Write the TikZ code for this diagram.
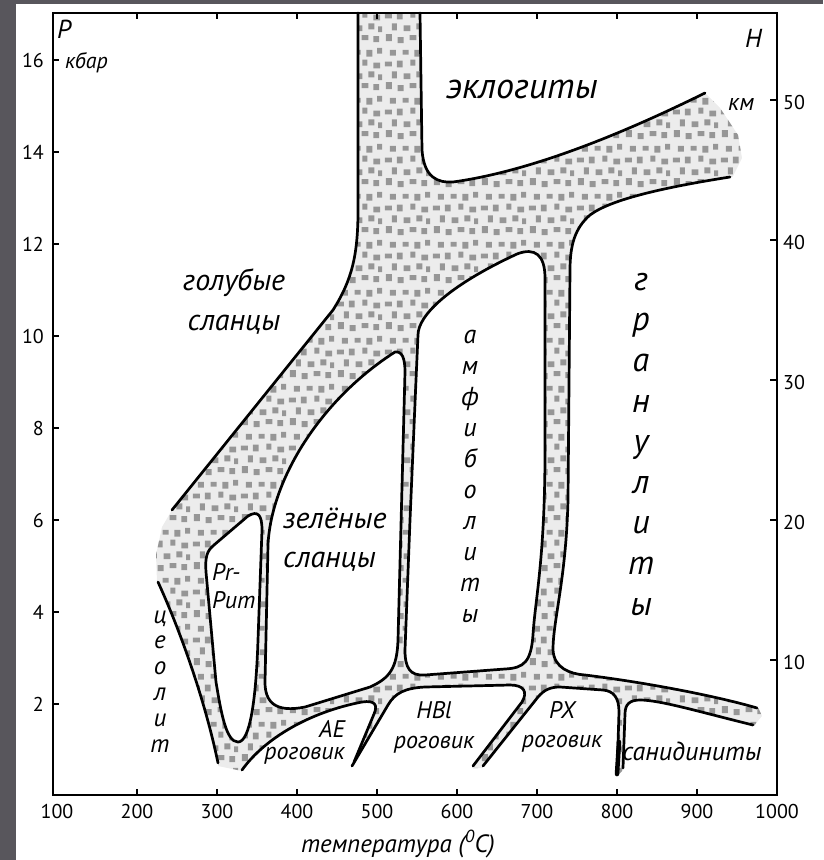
\documentclass[tikz,border=0pt]{standalone}
\usepackage{fontspec}
\setmainfont{PT Sans}
\usetikzlibrary{patterns}

\definecolor{slidegray}{RGB}{88,86,92}
\definecolor{bandgray}{RGB}{236,236,236}
\definecolor{dotgray}{RGB}{150,150,150}

% irregular gray specks of the transition zones
\pgfdeclarepatternformonly{specks}{\pgfqpoint{0pt}{0pt}}{\pgfqpoint{48pt}{48pt}}{\pgfqpoint{48pt}{48pt}}{%
    \pgfpathrectangle{\pgfqpoint{2pt}{3pt}}{\pgfqpoint{6pt}{7pt}}%
    \pgfpathrectangle{\pgfqpoint{14pt}{1pt}}{\pgfqpoint{6pt}{6pt}}%
    \pgfpathrectangle{\pgfqpoint{26pt}{4pt}}{\pgfqpoint{7pt}{5pt}}%
    \pgfpathrectangle{\pgfqpoint{38pt}{2pt}}{\pgfqpoint{6pt}{6pt}}%
    \pgfpathrectangle{\pgfqpoint{8pt}{14pt}}{\pgfqpoint{5pt}{7pt}}%
    \pgfpathrectangle{\pgfqpoint{20pt}{13pt}}{\pgfqpoint{7pt}{6pt}}%
    \pgfpathrectangle{\pgfqpoint{33pt}{15pt}}{\pgfqpoint{6pt}{6pt}}%
    \pgfpathrectangle{\pgfqpoint{43pt}{12pt}}{\pgfqpoint{4pt}{6pt}}%
    \pgfpathrectangle{\pgfqpoint{1pt}{26pt}}{\pgfqpoint{7pt}{5pt}}%
    \pgfpathrectangle{\pgfqpoint{13pt}{25pt}}{\pgfqpoint{6pt}{7pt}}%
    \pgfpathrectangle{\pgfqpoint{27pt}{27pt}}{\pgfqpoint{5pt}{6pt}}%
    \pgfpathrectangle{\pgfqpoint{38pt}{24pt}}{\pgfqpoint{7pt}{6pt}}%
    \pgfpathrectangle{\pgfqpoint{6pt}{37pt}}{\pgfqpoint{6pt}{6pt}}%
    \pgfpathrectangle{\pgfqpoint{19pt}{38pt}}{\pgfqpoint{6pt}{5pt}}%
    \pgfpathrectangle{\pgfqpoint{31pt}{36pt}}{\pgfqpoint{6pt}{7pt}}%
    \pgfpathrectangle{\pgfqpoint{42pt}{39pt}}{\pgfqpoint{5pt}{6pt}}%
    \pgfusepath{fill}%
}

\newcommand{\fsz}[2]{\fontsize{#1}{#2}\selectfont}

% facies boundaries (open lines)
\newcommand{\blueschistedge}{(358,13) -- (358,210) .. controls (358,255) and (352,280) .. (333,310) -- (172,510)}
\newcommand{\zeoliteedge}{(158,582) .. controls (180,630) and (205,700) .. (218,763)}
\newcommand{\eclogiteedge}{(420,13) -- (422,150) .. controls (424,178) and (438,183) .. (453,182) .. controls (540,170) and (640,125) .. (705,93)}
\newcommand{\granuliteedge}{(730,177) .. controls (660,188) and (610,200) .. (590,215) .. controls (575,228) and (570,245) .. (570,270) -- (568,500) .. controls (566,580) and (553,620) .. (553,650) .. controls (554,668) and (570,674) .. (585,675) .. controls (650,683) and (720,697) .. (757,708)}
\newcommand{\sanidiniteedge}{(753,725) .. controls (700,712) and (660,700) .. (640,700) .. controls (630,700) and (625,704) .. (625,714) -- (623,768)}
\newcommand{\pxedge}{(617,775) -- (619,712) .. controls (619,698) and (614,691) .. (603,690) -- (560,687) .. controls (550,687) and (544,690) .. (538,697) -- (483,766)}
\newcommand{\hbledge}{(473,766) -- (522,702) .. controls (528,692) and (524,685) .. (510,685) -- (425,687) .. controls (405,688) and (395,693) .. (388,705) -- (352,766)}
\newcommand{\aeedge}{(354,762) -- (374,714) .. controls (378,705) and (375,700) .. (362,702) .. controls (310,712) and (265,738) .. (242,770)}

\tikzset{
    boundary/.style={draw=black, line width=2.7pt, line cap=round, line join=round},
    axisline/.style={draw=black, line width=1.3pt},
    faciesname/.style 2 args={font=\fsz{#1}{#2}\itshape, inner sep=0pt, align=center},
    ticklabel/.style={font=\fsz{20}{22}, inner sep=0pt},
}

\begin{document}
\begin{tikzpicture}[x=1pt, y=-1pt]
    \useasboundingbox (0,0) rectangle (823,860);

    % slide edges
    \fill[slidegray] (0,0) rectangle (16,860);
    \fill[slidegray] (16,0) rectangle (823,4);

    % transition zones
    \path[fill=bandgray, postaction={pattern=specks, pattern color=dotgray}]
        (358,13) -- (420,13) -- (705,93) -- (720,108) -- (738,135) -- (742,158) -- (732,178)
        -- (757,705) -- (762,716) -- (753,727) -- (623,770) -- (617,776) -- (483,768)
        -- (242,771) -- (218,766) -- (157,582) -- (156,555) -- (162,527) -- (172,510) -- cycle;

    % fields
    \fill[white] \blueschistedge -- (53,510) -- (53,13) -- cycle;
    \fill[white] \zeoliteedge -- (218,795) -- (53,795) -- (53,582) -- cycle;
    \fill[white] \eclogiteedge -- (777,93) -- (777,13) -- cycle;
    \fill[white] \granuliteedge -- (777,708) -- (777,177) -- cycle;
    \fill[white] \sanidiniteedge -- (623,795) -- (777,795) -- (777,725) -- cycle;
    \fill[white] \pxedge -- (483,795) -- (617,795) -- cycle;
    \fill[white] \hbledge -- (352,795) -- (473,795) -- cycle;
    \fill[white] \aeedge -- (242,795) -- (354,795) -- cycle;

    % closed fields
    \path[boundary, fill=white] (395,352) .. controls (402,351) and (405,358) .. (405,372) -- (398,640)
        .. controls (397,668) and (390,678) .. (370,687) -- (305,707) .. controls (275,713) and (265,702) .. (265,682)
        -- (268,545) .. controls (271,480) and (320,400) .. (395,352) -- cycle;
    \path[boundary, fill=white] (418,335) .. controls (418,315) and (450,285) .. (517,254)
        .. controls (535,247) and (545,255) .. (545,278) -- (545,450) .. controls (545,560) and (535,600) .. (533,635)
        .. controls (531,662) and (524,668) .. (505,669) -- (425,675) .. controls (410,676) and (405,668) .. (405,650)
        -- (410,520) -- (416,380) -- cycle;
    \path[boundary, fill=white] (206,572) .. controls (205,556) and (207,551) .. (214,545) -- (248,516)
        .. controls (258,510) and (262,515) .. (262,530) -- (258,640) .. controls (256,700) and (250,742) .. (238,742)
        .. controls (226,742) and (221,712) .. (216,682) -- cycle;

    % boundaries
    \draw[boundary] \blueschistedge;
    \draw[boundary] \zeoliteedge;
    \draw[boundary] \eclogiteedge;
    \draw[boundary] \granuliteedge;
    \draw[boundary] \sanidiniteedge;
    \draw[boundary] \pxedge;
    \draw[boundary] \hbledge;
    \draw[boundary] \aeedge;
    \draw[boundary, line width=4.5pt] (619,742) -- (617,774);

    % facies names (base = last line)
    \node[faciesname={36}{40}, anchor=base] (eclogite) at (522,98) {эклогиты};
    \node[faciesname={30}{40}, anchor=base] (blueschist) at (234,330) {голубые\\сланцы};
    \node[faciesname={30}{39}, anchor=base west, align=left] (greenschist) at (283,567) {зелёные\\сланцы};
    \node[faciesname={26}{31}, anchor=base] (amphibolite) at (470,622) {а\\м\\ф\\и\\б\\о\\л\\и\\т\\ы};
    \node[faciesname={34}{40.6}, anchor=base] (granulite) at (641,615) {г\\р\\а\\н\\у\\л\\и\\т\\ы};
    \node[faciesname={25}{25.8}, anchor=base] (zeolite) at (160,752) {ц\\е\\о\\л\\и\\т};
    \node[faciesname={24}{28}, anchor=base west, align=left] (prpum) at (212,608) {Pr-\\Pum};
    \node[faciesname={24}{22}, anchor=base east, align=right] (aehornfels) at (345,759) {AE\\роговик};
    \node[faciesname={24}{30}, anchor=base] (hblhornfels) at (434,748) {HBl\\роговик};
    \node[faciesname={24}{29}, anchor=base] (pxhornfels) at (562,747) {PX\\роговик};
    \node[faciesname={26}{30}, anchor=base] (sanidinite) at (692,760) {санидиниты};

    % frame
    \draw[axisline] (53,13) rectangle (777,795);

    % axes
    \foreach \k in {1,...,8} {
        \draw[axisline] ({57+80*\k},795) -- ({57+80*\k},789);
        \draw[axisline] ({57+80*\k},13) -- ({57+80*\k},19);
    }
    \foreach \k/\t in {0/100,1/200,2/300,3/400,4/500,5/600,6/700,7/800,8/900,9/1000}
        \node[ticklabel, anchor=base] (t\k) at ({57+80*\k},818) {\t};
    \foreach \p in {2,4,...,16} {
        \draw[axisline] (53,{796-46*\p}) -- (59,{796-46*\p});
        \node[ticklabel, anchor=east] (p\p) at (44,{796-46*\p}) {\p};
    }
    \foreach \h in {10,20,...,50} {
        \draw[axisline] (770,{800-14*\h}) -- (777,{800-14*\h});
        \node[ticklabel, anchor=west] (h\h) at (783,{802-14*\h}) {\h};
    }
    \node[faciesname={26}{30}, anchor=base west] (paxis) at (57,38) {P};
    \node[faciesname={22}{26}, anchor=base west] (punit) at (65,68) {кбар};
    \node[faciesname={26}{30}, anchor=base west] (haxis) at (745,47) {H};
    \node[faciesname={24}{28}, anchor=base west] (hunit) at (728,110) {км};
    \node[faciesname={25}{30}, anchor=base] (taxis) at (398,852) {температура (\textsuperscript{0}C)};
\end{tikzpicture}
\end{document}
